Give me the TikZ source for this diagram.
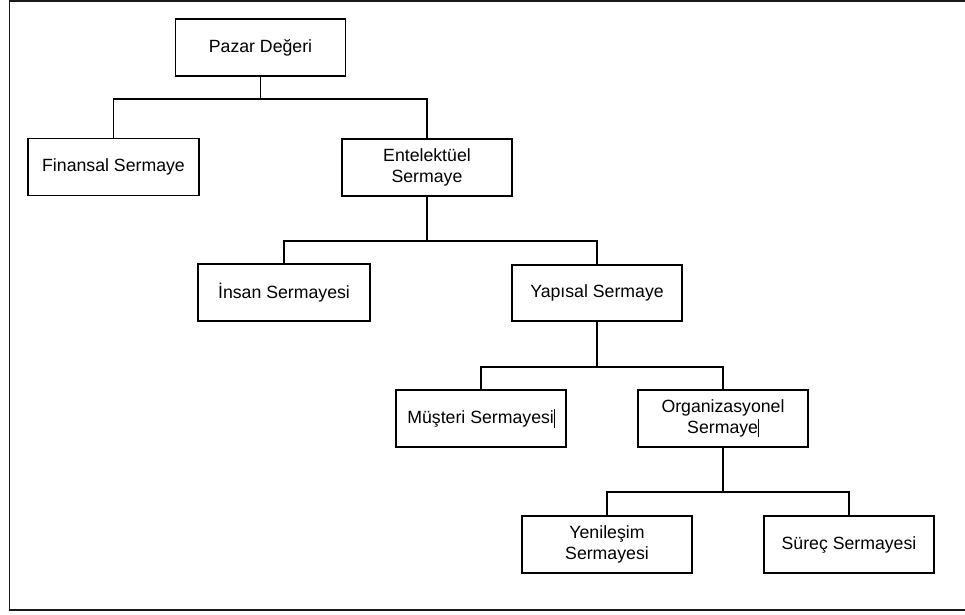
\documentclass[tikz,border=0pt]{standalone}
\usepackage{fontspec}
\setmainfont{Liberation Sans}
\newcommand{\cursorbar}{\rule[-0.22em]{0.7pt}{1.05em}}
\begin{document}
\begin{tikzpicture}[x=1pt,y=-1pt,
  box/.style={draw,line width=1.3pt,rectangle,minimum width=170pt,minimum height=57pt,
    inner sep=0pt,align=center,font=\fontsize{17.7}{21}\selectfont},
  conn/.style={line width=1.4pt}]
\useasboundingbox (0,0) rectangle (965,614);
\draw[line width=1.3pt, black!90] (965,1) -- (9.5,1) -- (9.5,610) -- (965,610);
\node[box] (pz) at (260.5,47.5) {Pazar Değeri};
\node[box,minimum width=171pt] (fin) at (113.5,167) {Finansal Sermaye};
\node[box] (ent) at (427,167.5) {Entelektüel\\Sermaye};
\node[box,minimum width=172pt] (ins) at (284,292.5) {İnsan Sermayesi};
\node[box,minimum height=56pt] (yap) at (597,293) {Yapısal Sermaye};
\node[box] (mus) at (481,418.5) {Müşteri Sermayesi\cursorbar};
\node[box] (org) at (723,418.5) {Organizasyonel\\Sermaye\cursorbar};
\node[box] (yen) at (607,544.5) {Yenileşim\\Sermayesi};
\node[box] (sur) at (849,544.5) {Süreç Sermayesi};
\coordinate (j1) at (260.5,99);
\coordinate (j2) at (427,241);
\coordinate (j3) at (597,367);
\coordinate (j4) at (723,492);
\draw[conn] (pz.south) -- (j1) -| (fin.north);
\draw[conn] (j1) -| (ent.north);
\draw[conn] (ent.south) -- (j2) -| (ins.north);
\draw[conn] (j2) -| (yap.north);
\draw[conn] (yap.south) -- (j3) -| (mus.north);
\draw[conn] (j3) -| (org.north);
\draw[conn] (org.south) -- (j4) -| (yen.north);
\draw[conn] (j4) -| (sur.north);
\end{tikzpicture}
\end{document}
